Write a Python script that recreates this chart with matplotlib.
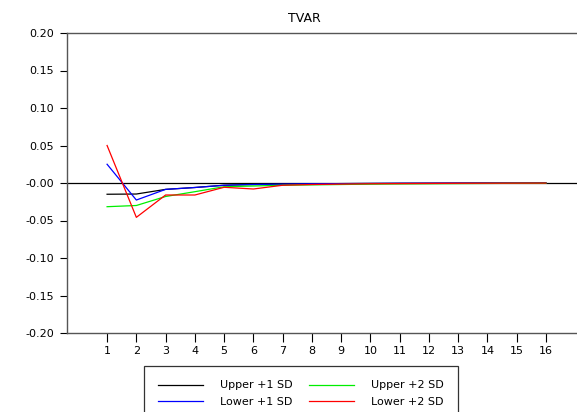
import matplotlib

matplotlib.use('Agg')
import matplotlib.pyplot as plt

plt.rcParams['font.family'] = ['DejaVu Sans']

# response periods
periods = list(range(1, 17))

upper_1sd = [-0.015, -0.0147, -0.0085, -0.006, -0.003, -0.002, -0.0015, -0.001,
             -0.0008, -0.0006, -0.0004, -0.0003, -0.0002, -0.0001, -0.0001, 0.0]
lower_1sd = [0.025, -0.0227, -0.0085, -0.006, -0.003, -0.002, -0.0015, -0.001,
             -0.0008, -0.0006, -0.0004, -0.0003, -0.0002, -0.0001, -0.0001, 0.0]
upper_2sd = [-0.0316, -0.030, -0.018, -0.0116, -0.005, -0.004, -0.003, -0.0025,
             -0.002, -0.0015, -0.0012, -0.001, -0.0008, -0.0006, -0.0004, -0.0003]
lower_2sd = [0.050, -0.0458, -0.016, -0.016, -0.0057, -0.008, -0.003, -0.002,
             -0.0015, -0.001, -0.0008, -0.0006, -0.0004, -0.0003, -0.0002, -0.0001]

y_ticks = [0.20, 0.15, 0.10, 0.05, 0.0, -0.05, -0.10, -0.15, -0.20]
y_labels = ['0.20', '0.15', '0.10', '0.05', '-0.00', '-0.05', '-0.10', '-0.15', '-0.20']

fig = plt.figure(figsize=(5.77, 4.12), dpi=100)
ax = fig.add_axes([67 / 577, 1 - 333 / 412, 1 - 67 / 577 + 0.002, 300 / 412])

ax.axhline(0, color='black', lw=0.9)
ax.plot(periods, upper_1sd, color='black', lw=0.9, label='Upper +1 SD')
ax.plot(periods, lower_1sd, color='#0000ff', lw=0.9, label='Lower +1 SD')
ax.plot(periods, upper_2sd, color='#00ee00', lw=0.9, label='Upper +2 SD')
ax.plot(periods, lower_2sd, color='#ff0000', lw=0.9, label='Lower +2 SD')

ax.set_xlim(-0.37, 17.1)
ax.set_ylim(-0.20, 0.20)
ax.set_xticks(periods)
ax.set_xticklabels([str(p) for p in periods], fontsize=8)
ax.set_yticks(y_ticks)
ax.set_yticklabels(y_labels, fontsize=8)
ax.tick_params(axis='x', direction='out', length=6.5, width=0.8, color='black', pad=2.5)
ax.tick_params(axis='y', direction='out', length=5, width=0.8, color='black', pad=4.5)

for side in ['left', 'bottom', 'top']:
    ax.spines[side].set_color('#555555')
    ax.spines[side].set_linewidth(1.0)
ax.spines['right'].set_visible(False)

ax.set_title('TVAR', fontsize=9, pad=8, x=0.464)

handles, labels = ax.get_legend_handles_labels()
leg = fig.legend(handles, labels, ncol=2, loc='upper left',
                 bbox_to_anchor=(144 / 577, 1 - 366 / 412), fontsize=8,
                 frameon=True, fancybox=False, handlelength=4.05,
                 handletextpad=1.5, columnspacing=1.5, labelspacing=0.6,
                 borderpad=1.3, borderaxespad=0)
leg.get_frame().set_edgecolor('black')
leg.get_frame().set_linewidth(0.9)

fig.savefig('out.png', dpi=100)
